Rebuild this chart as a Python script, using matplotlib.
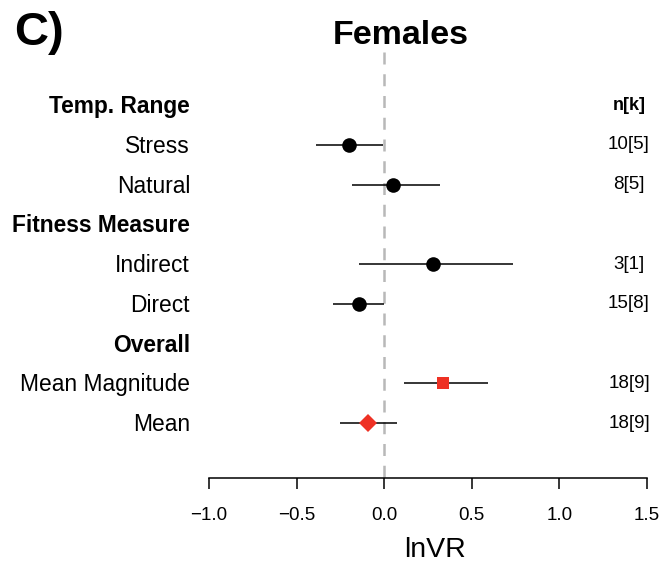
import matplotlib
matplotlib.use("Agg")
import matplotlib.pyplot as plt

plt.rcParams['font.family'] = ['Liberation Sans', 'DejaVu Sans']

# ---- data ----
headers = ["Temp. Range", "Fitness Measure", "Overall"]
header_rows = [0, 3, 6]
row_labels = ["Stress", "Natural", "Indirect", "Direct", "Mean Magnitude", "Mean"]
row_pos = [1, 2, 4, 5, 7, 8]
estimate = [-0.20, 0.05, 0.28, -0.145, 0.335, -0.093]
ci_lower = [-0.39, -0.184, -0.144, -0.29, 0.113, -0.252]
ci_upper = [-0.005, 0.318, 0.735, 0.0, 0.592, 0.073]
nk_labels = ["10[5]", "8[5]", "3[1]", "15[8]", "18[9]", "18[9]"]
marker_kind = ["o", "o", "o", "o", "s", "D"]
xticks = [-1.0, -0.5, 0.0, 0.5, 1.0, 1.5]

RED = "#EE3124"

fig = plt.figure(figsize=(6.63, 5.71), dpi=100)
ax = fig.add_axes([0, 0, 1, 1])
ax.set_xlim(-2.193, 1.591)
ax.set_ylim(11.723, -2.642)

# zero reference line
ax.plot([0, 0], [-1.33, 9.38], color="#b8b8b8", lw=1.8, dashes=(4.8, 3.9), zorder=1)

for y, e, lo, hi, m in zip(row_pos, estimate, ci_lower, ci_upper, marker_kind):
    col = "black" if m == "o" else RED
    ax.plot([lo, hi], [y, y], color="black", lw=1.1, zorder=2, solid_capstyle="butt")
    ms = {"o": 10.5, "s": 9.3, "D": 8.8}[m]
    ax.plot([e], [y], marker=m, color=col, markersize=ms, markeredgewidth=0, zorder=3, linestyle="none")

label_x = -1.108
for h, r in zip(headers, header_rows):
    ax.text(label_x, r + 0.04, h, ha="right", va="center", fontsize=16.4, fontweight="bold")
for lab, r in zip(row_labels, row_pos):
    ax.text(label_x, r + 0.04, lab, ha="right", va="center", fontsize=16.4)

nk_x = 1.397
ax.text(nk_x, header_rows[0], "n[k]", ha="center", va="center", fontsize=13, fontweight="bold")
for lab, r in zip(nk_labels, row_pos):
    ax.text(nk_x, r, lab, ha="center", va="center", fontsize=13.5)

# axis
for s in ["top", "left", "right"]:
    ax.spines[s].set_visible(False)
ax.spines["bottom"].set_position(("data", 9.38))
ax.spines["bottom"].set_bounds(xticks[0], xticks[-1])
ax.spines["bottom"].set_linewidth(1.1)
ax.set_xticks(xticks)
ax.set_xticklabels([f"{t:.1f}".replace("-", "\u2212") for t in xticks])
ax.set_yticks([])
ax.tick_params(axis="x", direction="out", length=7.9, width=1.1, labelsize=13.5, pad=13)

ax.text(0.29, 11.2, "lnVR", ha="center", va="center", fontsize=20.5)

fig.text(401 / 663, 1 - 35 / 571, "Females", ha="center", va="center", fontsize=24.5, fontweight="bold")
fig.text(14 / 663, 1 - 33 / 571, "C)", ha="left", va="center", fontsize=34, fontweight="bold")

fig.savefig("out.png", dpi=100)
